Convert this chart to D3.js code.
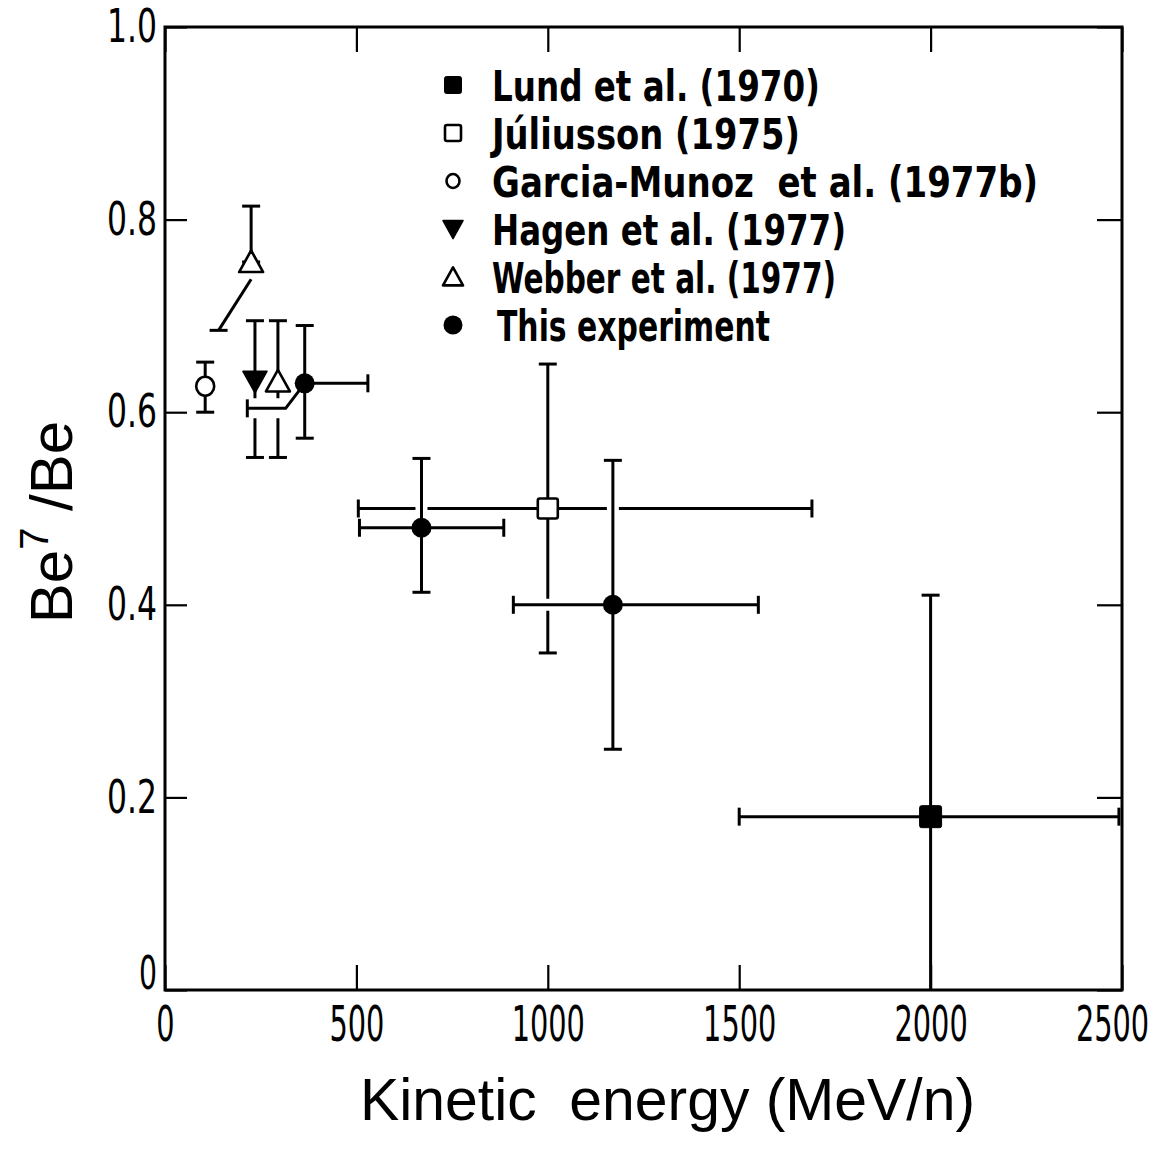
<!DOCTYPE html>
<html><head><meta charset="utf-8">
<script src="https://cdn.jsdelivr.net/npm/d3@7"></script>
<style>body{margin:0;background:#fff}svg{display:block}</style>
</head><body>
<script>
// ---- data ----
const lund = [{x:2000, y:0.18, xlo:1500, xhi:2492, ylo:0.0, yhi:0.41}];
const juliusson = [{x:1000, y:0.50, xlo:505, xhi:1690, ylo:0.35, yhi:0.65}];
const garcia = [{x:105, y:0.627, ylo:0.600, yhi:0.652}];
const hagen = [{x:235, y:0.632, ylo:0.553, yhi:0.695}];
const webber = [{x:225, y:0.756, ylo:0.685, yhi:0.814}, {x:295, y:0.632, ylo:0.553, yhi:0.695}];
const thisExp = [
  {x:365, y:0.630, xlo:215, xhi:530, ylo:0.573, yhi:0.690},
  {x:670, y:0.480, xlo:508, xhi:885, ylo:0.413, yhi:0.552},
  {x:1170, y:0.400, xlo:910, xhi:1550, ylo:0.250, yhi:0.550}
];
// displaced (bent) error-bar paths, drawn from the marker outward
const bentWebberLow = [{x:225, y:0.738}, {x:140, y:0.685}];
const bentThisLeft = [{x:365, y:0.630}, {x:315, y:0.604}, {x:215, y:0.604}];
const xTicks = [0, 500, 1000, 1500, 2000, 2500];
const yTicks = [0, 0.2, 0.4, 0.6, 0.8, 1.0];
const yTickLabels = ["0", "0.2", "0.4", "0.6", "0.8", "1.0"];
const legendLabels = ["Lund et al. (1970)", "Júliusson (1975)", "Garcia-Munoz  et al. (1977b)", "Hagen et al. (1977)", "Webber et al. (1977)", "This experiment"];
const legendWidths = [328, 308, 546, 354, 344, 273];
const legendSymbols = ["fsquare", "osquare", "ocircle", "ftridown", "otriup", "fcircle"];

// ---- setup ----
const W = 1159, H = 1150;
const svg = d3.select("body").append("svg").attr("width", W).attr("height", H);
const x = d3.scaleLinear().domain([0, 2500]).range([165, 1122]);
const y = d3.scaleLinear().domain([0, 1]).range([990, 27]);
const FONT = "'Liberation Sans Narrow','DejaVu Sans Condensed','Liberation Sans',sans-serif";
const LW = 3;

// axes
const gB = svg.append("g").attr("transform", `translate(0,${y(0)})`)
  .call(d3.axisBottom(x).tickValues(xTicks).tickSizeInner(-25).tickSizeOuter(0).tickPadding(16).tickFormat(d3.format("d")));
const gT = svg.append("g").attr("transform", `translate(0,${y(1)})`)
  .call(d3.axisTop(x).tickValues(xTicks).tickSizeInner(-25).tickSizeOuter(0).tickFormat(""));
const gL = svg.append("g").attr("transform", `translate(${x(0)},0)`)
  .call(d3.axisLeft(y).tickValues(yTicks).tickSizeInner(-22).tickSizeOuter(0).tickPadding(8).tickFormat((d,i)=>yTickLabels[i]));
const gR = svg.append("g").attr("transform", `translate(${x(2500)},0)`)
  .call(d3.axisRight(y).tickValues(yTicks).tickSizeInner(-25).tickSizeOuter(0).tickFormat(""));
[gB, gT, gL, gR].forEach(g => {
  g.select(".domain").remove();
  g.selectAll(".tick line").attr("stroke", "#000").attr("stroke-width", 2.2);
});
const SX = 0.64;
gB.selectAll(".tick text").attr("font-family", FONT).attr("font-size", 50).attr("fill", "#000")
  .attr("transform", `scale(${SX},1)`);
gB.selectAll(".tick").filter(d => d === 2500).select("text").attr("x", -10 / SX);
gL.selectAll(".tick text").attr("font-family", FONT).attr("font-size", 46).attr("fill", "#000")
  .attr("textLength", function(){ const t = this.textContent; return t.length === 1 ? 18 : 50; })
  .attr("lengthAdjust", "spacingAndGlyphs");
gL.selectAll(".tick").filter(d => d === 0).select("text").attr("y", -16);

// frame
svg.append("rect").attr("x", x(0)).attr("y", y(1)).attr("width", x(2500) - x(0)).attr("height", y(0) - y(1))
  .attr("fill", "none").attr("stroke", "#000").attr("stroke-width", LW);

// axis titles
svg.append("text").attr("x", 360).attr("y", 1120).attr("font-family", "'Liberation Sans',Arial,sans-serif")
  .attr("font-size", 60).attr("textLength", 615).attr("lengthAdjust", "spacingAndGlyphs")
  .attr("xml:space", "preserve").style("white-space", "pre").text("Kinetic  energy (MeV/n)");
const yt = svg.append("text").attr("transform", "translate(72,522) rotate(-90)")
  .attr("text-anchor", "middle").attr("font-family", "'Liberation Sans',Arial,sans-serif").attr("font-size", 60);
yt.append("tspan").text("Be");
yt.append("tspan").attr("font-size", 40).attr("dy", -24).text("7");
yt.append("tspan").attr("dy", 24).text(" /Be");

const plot = svg.append("g").attr("stroke", "#000").attr("stroke-width", LW).attr("fill", "none");
const CAP = 9;

function vbar(g, xv, y0, y1, halo) {
  const s = halo ? {c:"#fff", w:12} : {c:"#000", w:LW};
  g.append("line").attr("x1", x(xv)).attr("x2", x(xv)).attr("y1", y(y0)).attr("y2", y(y1)).attr("stroke", s.c).attr("stroke-width", s.w);
  if (!halo) {
    [y0, y1].forEach(v => { if (v > 0) g.append("line").attr("x1", x(xv) - CAP).attr("x2", x(xv) + CAP).attr("y1", y(v)).attr("y2", y(v)); });
  }
}
function hbar(g, yv, x0, x1, halo) {
  const s = halo ? {c:"#fff", w:12} : {c:"#000", w:LW};
  g.append("line").attr("x1", x(x0)).attr("x2", x(x1)).attr("y1", y(yv)).attr("y2", y(yv)).attr("stroke", s.c).attr("stroke-width", s.w);
  if (!halo) {
    [x0, x1].forEach(v => g.append("line").attr("x1", x(v)).attr("x2", x(v)).attr("y1", y(yv) - CAP).attr("y2", y(yv) + CAP));
  }
}

// Lund
lund.forEach(d => { vbar(plot, d.x, d.ylo, d.yhi); hbar(plot, d.y, d.xlo, d.xhi); });
// Juliusson
juliusson.forEach(d => { vbar(plot, d.x, d.ylo, d.yhi); hbar(plot, d.y, d.xlo, d.xhi); });
// This experiment b, c with halos
thisExp.slice(1).forEach(d => { vbar(plot, d.x, d.ylo, d.yhi, true); hbar(plot, d.y, d.xlo, d.xhi, true); });
thisExp.slice(1).forEach(d => { vbar(plot, d.x, d.ylo, d.yhi); hbar(plot, d.y, d.xlo, d.xhi); });
// Garcia, Hagen, Webber(2) vertical bars
garcia.forEach(d => vbar(plot, d.x, d.ylo, d.yhi));
hagen.forEach(d => vbar(plot, d.x, d.ylo, d.yhi));
vbar(plot, webber[1].x, webber[1].ylo, webber[1].yhi);
// Webber(1): upper bar straight, lower bar displaced
vbar(plot, webber[0].x, webber[0].y, webber[0].yhi);
const line = d3.line().x(d => x(d.x)).y(d => y(d.y));
plot.append("path").attr("d", line(bentWebberLow));
{ const e = bentWebberLow[bentWebberLow.length - 1];
  plot.append("line").attr("x1", x(e.x) - CAP).attr("x2", x(e.x) + CAP).attr("y1", y(e.y)).attr("y2", y(e.y)); }
// This experiment a: bent left bar with halo
plot.append("path").attr("d", line(bentThisLeft.slice(1))).attr("stroke", "#fff").attr("stroke-width", 20);
plot.append("path").attr("d", line(bentThisLeft)).attr("stroke-linejoin", "round");
{ const e = bentThisLeft[bentThisLeft.length - 1];
  plot.append("line").attr("x1", x(e.x)).attr("x2", x(e.x)).attr("y1", y(e.y) - CAP).attr("y2", y(e.y) + CAP); }
{ const d = thisExp[0];
  vbar(plot, d.x, d.ylo, d.yhi);
  plot.append("line").attr("x1", x(d.x)).attr("x2", x(d.xhi)).attr("y1", y(d.y)).attr("y2", y(d.y));
  plot.append("line").attr("x1", x(d.xhi)).attr("x2", x(d.xhi)).attr("y1", y(d.y) - CAP).attr("y2", y(d.y) + CAP); }

// markers
function marker(g, type, cx, cy, s) {
  const sw = 2.6;
  if (type === "fsquare") g.append("rect").attr("x", cx - s/2).attr("y", cy - s/2).attr("width", s).attr("height", s).attr("rx", 2).attr("fill", "#000").attr("stroke", "#000").attr("stroke-width", 1);
  if (type === "osquare") g.append("rect").attr("x", cx - s/2).attr("y", cy - s/2).attr("width", s).attr("height", s).attr("rx", 2).attr("fill", "#fff").attr("stroke", "#000").attr("stroke-width", sw);
  if (type === "ocircle") g.append("ellipse").attr("cx", cx).attr("cy", cy).attr("rx", s/2 - 0.5).attr("ry", s/2).attr("fill", "#fff").attr("stroke", "#000").attr("stroke-width", sw);
  if (type === "fcircle") g.append("circle").attr("cx", cx).attr("cy", cy).attr("r", s/2).attr("fill", "#000").attr("stroke", "none");
  if (type === "ftridown") g.append("path").attr("d", `M${cx - s/2},${cy - s*0.42}L${cx + s/2},${cy - s*0.42}L${cx},${cy + s*0.48}Z`).attr("fill", "#000").attr("stroke", "#000").attr("stroke-width", 1.5).attr("stroke-linejoin", "round");
  if (type === "otriup") g.append("path").attr("d", `M${cx - s/2},${cy + s*0.42}L${cx + s/2},${cy + s*0.42}L${cx},${cy - s*0.48}Z`).attr("fill", "#fff").attr("stroke", "#000").attr("stroke-width", sw).attr("stroke-linejoin", "round");
}
const mk = svg.append("g");
lund.forEach(d => marker(mk, "fsquare", x(d.x), y(d.y), 22));
juliusson.forEach(d => marker(mk, "osquare", x(d.x), y(d.y), 20));
garcia.forEach(d => marker(mk, "ocircle", x(d.x), y(d.y), 19));
hagen.forEach(d => marker(mk, "ftridown", x(d.x), y(d.y), 24));
webber.forEach(d => marker(mk, "otriup", x(d.x), y(d.y), 24));
thisExp.forEach(d => marker(mk, "fcircle", x(d.x), y(d.y), 20));

// legend
const lg = svg.append("g");
legendLabels.forEach((t, i) => {
  const cy = 85 + i * 48;
  const sz = {fsquare:17, osquare:16, ocircle:14, ftridown:20, otriup:20, fcircle:19}[legendSymbols[i]];
  marker(lg, legendSymbols[i], 453, cy, sz);
  lg.append("text").attr("x", i === 5 ? 497 : 492).attr("y", cy + 16)
    .attr("font-family", FONT).attr("font-size", 43).attr("font-weight", "bold").attr("fill", "#000")
    .attr("textLength", legendWidths[i]).attr("lengthAdjust", "spacingAndGlyphs")
    .attr("xml:space", "preserve").style("white-space", "pre").text(t);
});
</script>
</body></html>
